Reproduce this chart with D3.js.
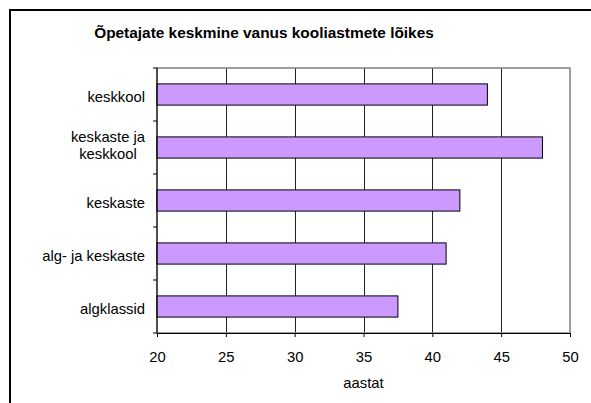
<!DOCTYPE html>
<html><head><meta charset="utf-8">
<script src="https://cdn.jsdelivr.net/npm/d3@7"></script>
<style>body{margin:0;background:#fff}svg{display:block;font-family:Arial,"Liberation Sans",sans-serif}</style>
</head><body>
<svg id="c" width="591" height="403"></svg>
<script>
const categories = ["keskkool", "keskaste ja\nkeskkool", "keskaste", "alg- ja keskaste", "algklassid"];
const values = [44, 48, 42, 41, 37.5];
const xTicks = [20, 25, 30, 35, 40, 45, 50];
const title = "Õpetajate keskmine vanus kooliastmete lõikes";
const xTitle = "aastat";

const svg = d3.select("#c");
const L = 157, R = 570, T = 68, B = 333;

svg.append("rect").attr("x", 10).attr("y", 10).attr("width", 600).attr("height", 420)
  .attr("fill", "#fff").attr("stroke", "#000").attr("stroke-width", 2);

const x = d3.scaleLinear().domain([20, 50]).range([L, R]);
const y = d3.scaleBand().domain(categories).range([T, B]).paddingInner(0.6).paddingOuter(0.3);

// gridlines
svg.append("g").selectAll("line").data(xTicks.slice(1, -1)).join("line")
  .attr("x1", d => Math.round(x(d)) + 0.5).attr("x2", d => Math.round(x(d)) + 0.5)
  .attr("y1", T).attr("y2", B).attr("stroke", "#222").attr("stroke-width", 1);

// plot border
svg.append("rect").attr("x", L).attr("y", T).attr("width", R - L).attr("height", B - T)
  .attr("fill", "none").attr("stroke", "#808080").attr("stroke-width", 1.5);

// bars
svg.append("g").selectAll("rect").data(values).join("rect")
  .attr("x", x(20)).attr("y", (d, i) => y(categories[i]))
  .attr("width", d => x(d) - x(20)).attr("height", y.bandwidth())
  .attr("fill", "#CC99FF").attr("stroke", "#000").attr("stroke-width", 1);

// x axis
const xa = svg.append("g").attr("transform", `translate(0,${B})`)
  .call(d3.axisBottom(x).tickValues(xTicks).tickSize(4).tickPadding(14).tickSizeOuter(0));
xa.select(".domain").attr("stroke", "#000");
xa.selectAll("line").attr("stroke", "#000");
xa.selectAll("text").attr("font-size", 14.8).attr("fill", "#000").attr("font-family", "Arial, 'Liberation Sans', sans-serif");

// y axis (ticks at band boundaries)
const bounds = d3.range(categories.length + 1).map(i => T + i * (B - T) / categories.length);
svg.append("line").attr("x1", L).attr("x2", L).attr("y1", T).attr("y2", B).attr("stroke", "#000");
svg.append("g").selectAll("line").data(bounds).join("line")
  .attr("x1", L - 4).attr("x2", L).attr("y1", d => d).attr("y2", d => d).attr("stroke", "#000");

// category labels
const labG = svg.append("g").attr("font-size", 14.8).attr("fill", "#000");
categories.forEach(c => {
  const lines = c.split("\n");
  const cy = y(c) + y.bandwidth() / 2;
  if (lines.length === 1) {
    labG.append("text").attr("x", 145).attr("y", cy + 7).attr("text-anchor", "end").text(c);
  } else {
    const t = labG.append("text").attr("text-anchor", "middle");
    lines.forEach((ln, i) => t.append("tspan").attr("x", 0).attr("y", cy - 5.5 + i * 17).text(ln));
    let w = 0;
    t.selectAll("tspan").each(function(){ w = Math.max(w, this.getComputedTextLength()); });
    t.selectAll("tspan").attr("x", 145 - w / 2);
  }
});

// titles
svg.append("text").attr("x", 264).attr("y", 38).attr("text-anchor", "middle")
  .attr("font-size", 15.4).attr("font-weight", "bold").text(title);
svg.append("text").attr("x", (L + R) / 2).attr("y", 388).attr("text-anchor", "middle")
  .attr("font-size", 14.8).text(xTitle);
</script>
</body></html>
